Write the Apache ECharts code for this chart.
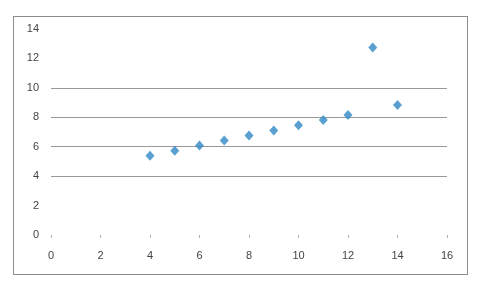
<!DOCTYPE html>
<html>
<head>
<meta charset="utf-8">
<script src="https://cdn.jsdelivr.net/npm/echarts@6/dist/echarts.min.js"></script>
<style>
html,body{margin:0;padding:0;background:#fff;}
#frame{position:absolute;left:13px;top:16px;width:453px;height:257px;border:1px solid #8c8c8c;}
#chart{position:absolute;left:0;top:0;width:482px;height:289px;}
</style>
</head>
<body>
<div id="frame"></div>
<div id="chart"></div>
<script>
const xValues = [10, 8, 13, 9, 11, 14, 6, 4, 12, 7, 5];
const yValues = [7.46, 6.77, 12.74, 7.11, 7.81, 8.84, 6.08, 5.39, 8.15, 6.42, 5.73];
const xTicks = [0, 2, 4, 6, 8, 10, 12, 14, 16];
const yTicks = [0, 2, 4, 6, 8, 10, 12, 14];

const points = xValues.map((x, i) => [x, yValues[i]]);
const font = 'Liberation Sans, Arial, sans-serif';

const chart = echarts.init(document.getElementById('chart'), null, {renderer: 'canvas'});
chart.setOption({
  animation: false,
  grid: {left: 51, right: 35, top: 29, bottom: 54, containLabel: false},
  xAxis: {
    type: 'value',
    min: xTicks[0], max: xTicks[xTicks.length - 1], interval: 2,
    axisLine: {show: false},
    axisTick: {show: true, length: 3, lineStyle: {color: '#b0b0b0'}},
    splitLine: {show: false},
    axisLabel: {margin: 15, color: '#444', fontSize: 11, fontFamily: font}
  },
  yAxis: {
    type: 'value',
    min: yTicks[0], max: yTicks[yTicks.length - 1], interval: 2,
    axisLine: {show: false},
    axisTick: {show: false},
    splitLine: {show: true, lineStyle: {color: ['rgba(0,0,0,0)', 'rgba(0,0,0,0)', '#999', '#999', '#999', '#999', 'rgba(0,0,0,0)', 'rgba(0,0,0,0)'], width: 1}},
    axisLabel: {margin: 12, color: '#444', fontSize: 11, fontFamily: font}
  },
  series: [{
    type: 'scatter',
    data: points,
    symbol: 'diamond',
    symbolSize: [9, 10],
    itemStyle: {color: '#2f88c6'}
  }]
});
</script>
</body>
</html>
